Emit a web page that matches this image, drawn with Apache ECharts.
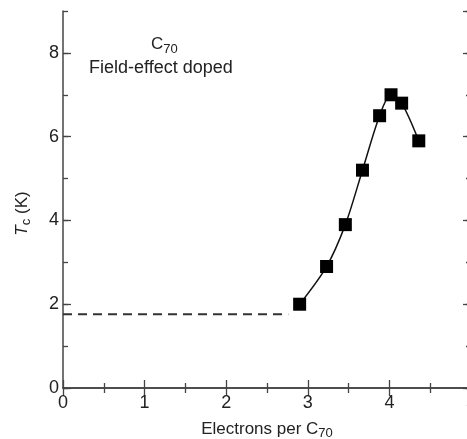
<!DOCTYPE html>
<html>
<head>
<meta charset="utf-8">
<script src="https://cdn.jsdelivr.net/npm/echarts@6/dist/echarts.min.js"></script>
<style>
  html, body { margin: 0; padding: 0; background: #fff; }
  #chart { width: 467px; height: 439px; }
</style>
</head>
<body>
<div id="chart"></div>
<script>
// measured points: electrons per C70 vs Tc (K)
const electrons = [2.90, 3.23, 3.46, 3.67, 3.88, 4.02, 4.15, 4.36];
const tc = [2.0, 2.9, 3.9, 5.2, 6.5, 7.0, 6.8, 5.9];
// dashed baseline (below measurement limit)
const baseX = [0, 2.76];
const baseY = [1.76, 1.76];

const chartDom = document.getElementById('chart');
const myChart = echarts.init(chartDom);

const axisColor = '#444';
const font = 'Liberation Sans, Arial, sans-serif';
const sub = { fontSize: 13, fontFamily: font, color: '#222', padding: [9, 0, 0, 0] };

const mirrorY = (pos, interval, len) => ({
  type: 'value', position: pos, min: 0, max: 9, interval: interval,
  axisLine: { show: interval === 2, lineStyle: { color: axisColor, width: 1.5 } },
  axisTick: { show: true, inside: true, length: len, lineStyle: { color: axisColor, width: 1.3 } },
  axisLabel: { show: false },
  splitLine: { show: false }
});

const option = {
  animation: false,
  grid: { left: 63, top: 11, width: 408, bottom: 51, outerBoundsMode: 'none', containLabel: false },
  textStyle: { fontFamily: font },
  xAxis: [
    {
      type: 'value', min: 0, max: 5, interval: 1, position: 'bottom',
      name: '{n|Electrons per C}{s|70}',
      nameLocation: 'middle', nameGap: 30,
      nameTextStyle: { rich: { n: { fontSize: 17, fontFamily: font, color: '#222' }, s: sub } },
      axisLine: { lineStyle: { color: axisColor, width: 1.5 } },
      axisTick: { inside: true, length: 8, lineStyle: { color: axisColor, width: 1.3 } },
      minorTick: { show: true, splitNumber: 2, length: 5, lineStyle: { color: axisColor, width: 1.3 } },
      axisLabel: { fontSize: 18, color: '#222', margin: 6 },
      splitLine: { show: false }
    },
    {
      type: 'value', min: 0, max: 5, interval: 1, position: 'top',
      axisLine: { lineStyle: { color: axisColor, width: 1.5 } },
      axisTick: { inside: true, length: 8, lineStyle: { color: axisColor, width: 1.3 } },
      minorTick: { show: true, splitNumber: 2, length: 5, lineStyle: { color: axisColor, width: 1.3 } },
      axisLabel: { show: false },
      splitLine: { show: false }
    }
  ],
  yAxis: [
    {
      type: 'value', position: 'left', min: 0, max: 9, interval: 2,
      name: '{i|T}{s|c}{n| (K)}',
      nameLocation: 'middle', nameGap: 30, nameRotate: 90,
      nameTextStyle: {
        padding: [0, 28, 0, 0],
        rich: {
          i: { fontSize: 17, fontStyle: 'italic', fontFamily: font, color: '#222' },
          n: { fontSize: 17, fontFamily: font, color: '#222' },
          s: sub
        }
      },
      axisLine: { lineStyle: { color: axisColor, width: 1.5 } },
      axisTick: { inside: true, length: 8, lineStyle: { color: axisColor, width: 1.3 } },
      axisLabel: { fontSize: 18, color: '#222', margin: 4, showMaxLabel: false },
      splitLine: { show: false }
    },
    mirrorY('left', 1, 5),
    mirrorY('right', 2, 8),
    mirrorY('right', 1, 5)
  ],
  graphic: [
    {
      type: 'text', left: 151, top: 36,
      style: {
        text: '{n|C}{s|70}',
        rich: {
          n: { fontSize: 17, fontFamily: font, fill: '#222' },
          s: { fontSize: 13, fontFamily: font, fill: '#222', padding: [9, 0, 0, 0] }
        }
      }
    },
    {
      type: 'text', left: 89, top: 59,
      style: { text: 'Field-effect doped', fontSize: 18, fontFamily: font, fill: '#222' }
    }
  ],
  series: [
    {
      type: 'line',
      data: baseX.map((x, i) => [x, baseY[i]]),
      symbol: 'none',
      lineStyle: { color: '#333', width: 2, type: [9, 6] }
    },
    {
      type: 'line',
      data: electrons.map((x, i) => [x, tc[i]]),
      smooth: 0.3,
      symbol: 'rect', symbolSize: 13,
      itemStyle: { color: '#000' },
      lineStyle: { color: '#111', width: 1.5 }
    }
  ]
};

myChart.setOption(option);
</script>
</body>
</html>
